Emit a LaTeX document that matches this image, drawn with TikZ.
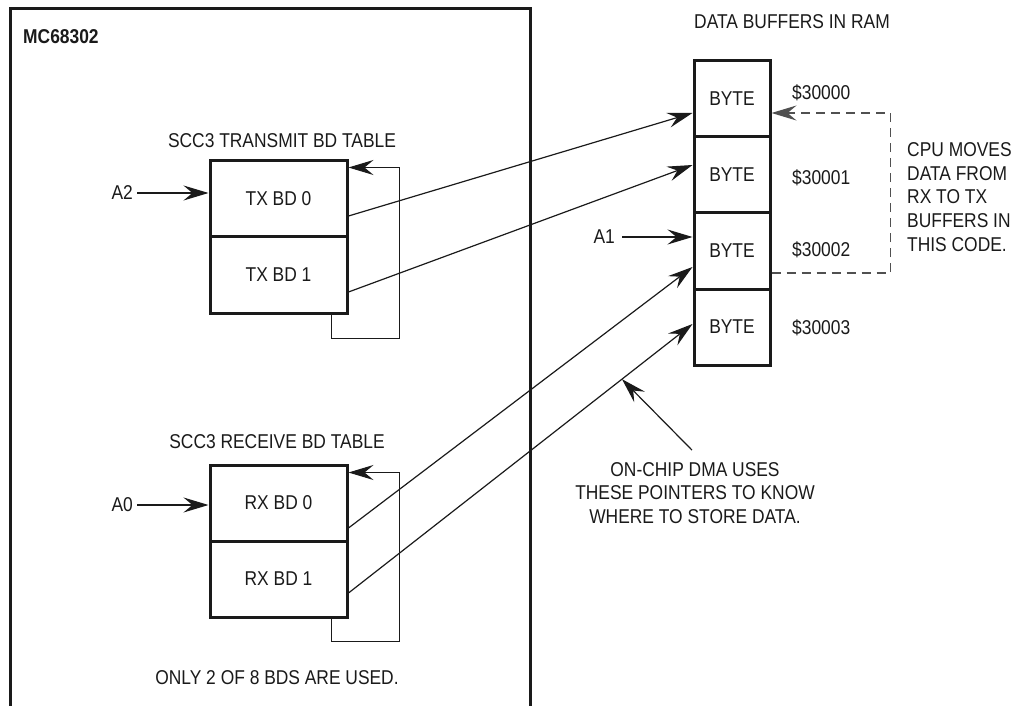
\documentclass[tikz,border=0pt]{standalone}
\usepackage{fontspec}
\setmainfont{Liberation Sans}[FakeStretch=0.87]
\usetikzlibrary{arrows.meta,positioning}
\definecolor{DiagInk}{HTML}{1A1A1A}
\definecolor{DiagDash}{HTML}{505050}
\newcommand{\lblfont}{\fontsize{20}{23.6}\selectfont}

\begin{document}
\begin{tikzpicture}[x=1pt, y=-1pt,
    bdbox/.style={
      draw=DiagInk, line width=3pt, minimum width=137pt, minimum height=76pt,
      inner sep=0pt, font=\lblfont, text=DiagInk
    },
    bytebox/.style={
      draw=DiagInk, line width=3pt, minimum width=76pt, minimum height=76pt,
      inner sep=0pt, font=\lblfont, text=DiagInk
    },
    arr/.style={-{Stealth[length=25pt, width=15pt, inset=9pt]}, line width=1.2pt, color=DiagInk},
    darr/.style={-{Stealth[length=25pt, width=15pt, inset=9pt]}, line width=1.2pt, color=DiagDash,
      dash pattern=on 9pt off 6pt},
    note/.style={font=\lblfont, text=DiagInk, inner sep=0pt}
  ]
  \useasboundingbox (0,0) rectangle (1013,706);

  % Chip outline (open at the bottom)
  \draw[line width=3pt, DiagInk] (10,706) |- (530,9) -- (530,706);
  \node[note, anchor=west, font=\lblfont\bfseries] (chip) at (23,37) {MC68302};

  % Transmit BD table
  \node[note] (txtitle) at (282,141) {SCC3 TRANSMIT BD TABLE};
  \node[bdbox] (tx0) at (278.5,199) {TX BD 0};
  \node[bdbox] (tx1) at (278.5,275) {TX BD 1};
  \node[note, anchor=east] (a2) at (133,193) {A2};

  % Receive BD table
  \node[note] (rxtitle) at (277,442) {SCC3 RECEIVE BD TABLE};
  \node[bdbox] (rx0) at (278.5,503) {RX BD 0};
  \node[bdbox] (rx1) at (278.5,579) {RX BD 1};
  \node[note, anchor=east] (a0) at (133,505) {A0};
  \node[note] (used) at (277,678) {ONLY 2 OF 8 BDS ARE USED.};

  % Data buffers in RAM
  \node[note] (ramtitle) at (792,22) {DATA BUFFERS IN RAM};
  \foreach \i/\yy in {0/99,1/175,2/251,3/327}
    \node[bytebox] (byte\i) at (732,\yy) {BYTE};
  \foreach \i/\yy in {0/93,1/178,2/250,3/328}
    \node[note, anchor=west] (addr\i) at (792,\yy) {\$3000\i};
  \node[note, anchor=east] (a1) at (615,237) {A1};

  % Notes
  \node[note, anchor=west, align=left] (cpu) at (907,197)
    {CPU MOVES\\DATA FROM\\RX TO TX\\BUFFERS IN\\THIS CODE.};
  \node[note, align=center] (dma) at (695,493)
    {ON-CHIP DMA USES\\THESE POINTERS TO KNOW\\WHERE TO STORE DATA.};

  % Pointer arrows
  \draw[arr] ([xshift=4pt]a2.east) -- (a2 -| tx0.west);
  \draw[arr] ([xshift=4pt]a0.east) -- (a0 -| rx0.west);
  \draw[arr] ([xshift=7pt]a1.east) -- (a1 -| byte2.west);

  % Wrap-around loops
  \draw[arr, line width=1pt] ([xshift=-17pt]tx1.south east) |- ++(68,24) |- ([yshift=-8pt]tx0.north east);
  \draw[arr, line width=1pt] ([xshift=-17pt]rx1.south east) |- ++(68,23) |- ([yshift=-9pt]rx0.north east);

  % Buffer pointers
  \draw[arr] ([yshift=-17pt]tx0.east) -- ([yshift=-14pt]byte0.west);
  \draw[arr] ([yshift=-17pt]tx1.east) -- ([yshift=10pt]byte1.west);
  \draw[arr] ([yshift=-25pt]rx0.east) -- ([yshift=-16pt]byte2.west);
  \draw[arr] ([yshift=-14pt]rx1.east) -- coordinate[pos=0.795] (dmahit) ([yshift=3pt]byte3.west);

  % CPU copy and DMA callout
  \draw[darr] ([yshift=-22pt]byte2.east) -- ++(119,0) |- ([yshift=-14pt]byte0.east);
  \draw[arr] ([shift={(-3pt,12pt)}]dma.north) -- (dmahit);

\end{tikzpicture}
\end{document}
